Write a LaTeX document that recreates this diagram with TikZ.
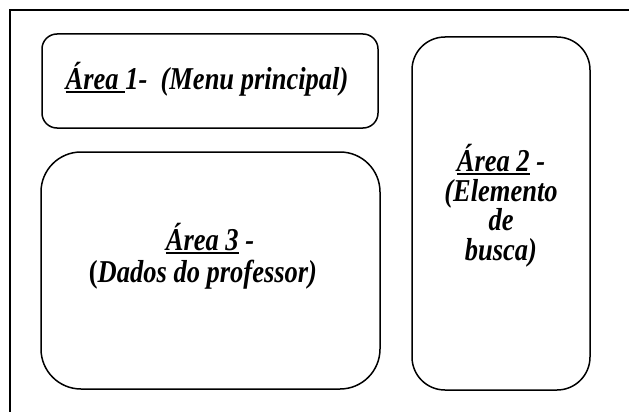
\documentclass[tikz,border=0pt]{standalone}
\usepackage{fontspec}
\usepackage{graphicx}
\setmainfont{Liberation Serif}
\newsavebox\ulsave
\newcommand\ulbox[1]{\sbox\ulsave{#1}\rlap{\rule[-3.2pt]{\wd\ulsave}{1.6pt}}\usebox\ulsave}
\newcommand\vs[1]{\scalebox{1}[1.2]{#1}}
\newcommand\areafont{\fontsize{26.5}{29.5}\selectfont\bfseries\itshape}
\tikzset{
  areabox/.style={draw, line width=1.5pt, inner sep=0pt},
  areatext/.style={font=\areafont, inner sep=0pt, align=center}
}
\begin{document}
\lineskiplimit=-100pt
\begin{tikzpicture}[x=1pt,y=-1pt]
\useasboundingbox (0,0) rectangle (629,412);
% outer frame (only left and top visible)
\draw[line width=2pt] (10,412) -- (10,10) -- (629,10);
% boxes
\node[areabox, rounded corners=15pt, minimum width=336pt, minimum height=94pt] (b1) at (210,81) {};
\node[areabox, rounded corners=40pt, minimum width=339pt, minimum height=237pt] (b3) at (210.5,270.5) {};
\node[areabox, rounded corners=33pt, minimum width=178pt, minimum height=353pt] (b2) at (501,213.5) {};
% texts
\node[areatext, anchor=base] (t1) at (207,89) {\vs{\ulbox{Área\ }1-\ \ (Menu principal)}};
\node[areatext, anchor=base] (t3a) at (210,250) {\vs{\ulbox{Área 3} -}};
\node[areatext, anchor=base] (t3b) at (203,282) {\vs{{\upshape(}Dados do professor)}};
\node[areatext, anchor=base] (t2) at (501,260) {\vs{\ulbox{Área 2} -}\\\vs{(Elemento}\\\vs{de}\\\vs{busca)}};
\end{tikzpicture}
\end{document}
